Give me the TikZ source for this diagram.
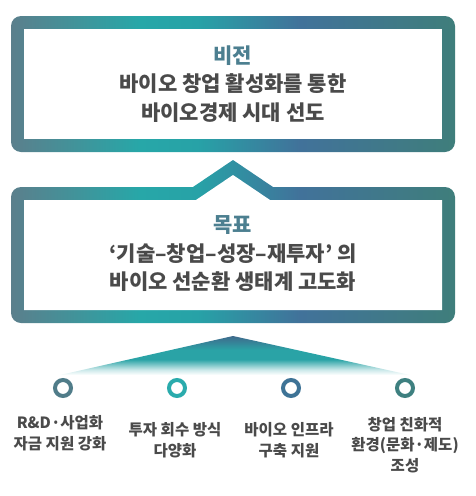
\documentclass[tikz,border=0pt]{standalone}
\usepackage{fontspec}
\setmainfont{Noto Sans CJK KR}
\definecolor{txt}{HTML}{4A4A4A}
\definecolor{ttl}{HTML}{4C7F90}
\definecolor{cA}{HTML}{5B7F8C}
\definecolor{cB}{HTML}{27A7A8}
\definecolor{cC}{HTML}{27A2A7}
\definecolor{cD}{HTML}{41729A}
\definecolor{cE}{HTML}{3F7E7B}
\definecolor{tTop}{HTML}{3F6A8C}
\definecolor{tMid}{HTML}{2AA3A6}
\definecolor{r1}{HTML}{507C89}
\definecolor{r2}{HTML}{2AABAC}
\definecolor{r3}{HTML}{3E7396}
\definecolor{r4}{HTML}{3E8080}
\pgfdeclarehorizontalshading{bandshade}{100bp}{color(0bp)=(cA); color(25bp)=(cA); color(39.5bp)=(cB); color(46bp)=(cC); color(57.5bp)=(cD); color(75bp)=(cE); color(100bp)=(cE)}
\pgfdeclareverticalshading{trishade}{100bp}{color(0bp)=(white); color(25bp)=(white); color(32bp)=(white!75!tMid); color(45bp)=(tMid); color(57bp)=(tMid); color(75bp)=(tTop); color(100bp)=(tTop)}
\begin{document}
\begin{tikzpicture}[x=1pt,y=-1pt,
  bigtext/.style={font=\bfseries\fontsize{21}{28.5}\selectfont, text=txt, align=center, inner sep=0pt},
  smalltext/.style={font=\bfseries\fontsize{15.5}{20.5}\selectfont, text=txt, align=center, inner sep=0pt},
  ring/.style={draw=#1, line width=4pt, fill=white}]
\useasboundingbox (0,0) rectangle (476,496);
% box 1
\shade[shading=bandshade, rounded corners=10pt] (11,16) rectangle (455,152);
\fill[white] (24,29) rectangle (442,139);
% box 2 with chevron
\shade[shading=bandshade] (193,187) -- (233,160) -- (273,187) [rounded corners=10pt] -- (455,187) -- (455,323) -- (11,323) -- (11,187) [sharp corners] -- cycle;
\fill[white] (24,310) -- (24,200) -- (196,200) -- (233,175) -- (270,200) -- (442,200) -- (442,310) -- cycle;
% triangle
\shade[shading=trishade] (233,336) -- (410,375) -- (60,375) -- cycle;
% texts
\node[bigtext] (vision) at (233,84) {\textcolor{ttl}{비전}\\바이오 창업 활성화를 통한\\바이오경제 시대 선도};
\node[bigtext] (goal) at (233,254) {\textcolor{ttl}{목표}\\‘기술–창업–성장–재투자’ 의\\바이오 선순환 생태계 고도화};
% rings
\draw[ring=r1] (63,388) circle (8);
\draw[ring=r2] (177,388) circle (8);
\draw[ring=r3] (291,388) circle (8);
\draw[ring=r4] (405,388) circle (8);
\node[smalltext] (s1) at (60,433) {R\&D·사업화\\자금 지원 강화};
\node[smalltext] (s2) at (175,440) {투자 회수 방식\\다양화};
\node[smalltext] (s3) at (289,440) {바이오 인프라\\구축 지원};
\node[smalltext] (s4) at (405,445) {창업 친화적\\환경(문화·제도)\\조성};
\end{tikzpicture}
\end{document}
